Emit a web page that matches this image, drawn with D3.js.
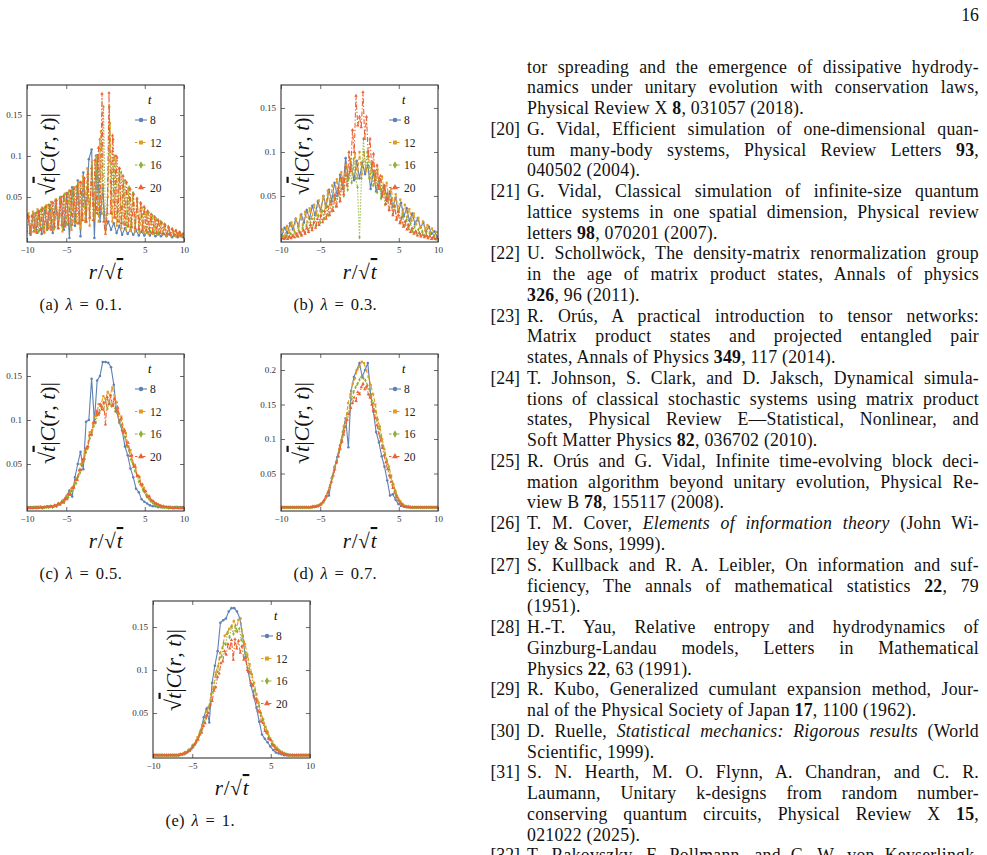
<!DOCTYPE html>
<html>
<head>
<meta charset="utf-8">
<script src="https://cdn.jsdelivr.net/npm/d3@7"></script>
<style>
  body { margin: 0; background: #fff; width: 987px; height: 855px; overflow: hidden; position: relative; }
  svg { position: absolute; left: 0; top: 0; }
  .ln, .num, .page { position: absolute; font-family: "Liberation Serif", serif; font-size: 17.8px; line-height: 20.76px; color: #111; }
  .ln { left: 527px; width: 452px; text-align: justify; text-align-last: justify; white-space: nowrap; letter-spacing: 0.25px; }
  .ln.last { text-align-last: left; }
  .num { left: 470px; width: 50px; text-align: right; }
  .page { right: 8px; top: 5px; }
</style>
</head>
<body>
<script>
"use strict";

// sqrt(t)|C(r,t)|, one value per site r = -R..R
// (x position is r / sqrt(t))
const times = [8, 12, 16, 20];

// (a) lambda = 0.1
const a8 = [.028,.004,.03,.008,.033,.005,.036,.01,.04,.006,.045,.012,.05,.01,.055,0,.062,.015,.07,.002,.08,.02,.096,.108,0,.101,.02,.06,
  .012,
  .02,.01,.018,.006,.015,.004,.012,.005,.01,.004,.009,.003,.008,.003,.007,.003,.007,.002,.006,.002,.005,.002,.005,.001,.004,.001,.003,.001];
const a12 = [.03,.006,.032,.008,.035,.01,.037,.006,.04,.012,.044,.01,.047,.014,.05,.008,.054,.016,.058,.01,.062,.018,.068,.012,.075,.02,.085,.015,.093,.025,.1,.02,.13,.03,
  .01,
  .05,.14,.02,.1,.015,.085,.012,.07,.01,.06,.009,.052,.008,.044,.007,.037,.006,.031,.005,.026,.005,.021,.004,.017,.004,.014,.003,.011,.003,.008,.002,.006,.002,.004];
const a16 = [.008,.026,.008,.028,.01,.031,.008,.034,.012,.037,.01,.04,.014,.043,.012,.046,.016,.049,.014,.052,.018,.055,.015,.058,.02,.062,.018,.068,.022,.073,.02,.08,.025,.088,.022,.1,.03,.12,.03,.16,
  .01,
  .04,.16,.03,.12,.025,.098,.02,.08,.018,.07,.015,.062,.013,.055,.012,.048,.01,.042,.009,.036,.008,.031,.007,.027,.006,.023,.005,.02,.005,.017,.004,.014,.004,.011,.003,.009,.003,.007,.002,.005];
const a20 = [.025,.006,.027,.008,.03,.006,.032,.01,.035,.008,.038,.012,.04,.01,.043,.014,.046,.012,.048,.016,.051,.014,.054,.018,.057,.016,.06,.02,.064,.018,.068,.022,.073,.02,.078,.025,.085,.022,.095,.03,.11,.035,.176,.02,
  .005,
  .03,.177,.03,.125,.025,.1,.02,.085,.018,.076,.016,.068,.014,.06,.013,.054,.012,.048,.011,.043,.01,.038,.009,.033,.008,.029,.007,.026,.006,.022,.006,.019,.005,.016,.005,.013,.004,.011,.004,.009,.003,.007,.003,.005];

// (b) lambda = 0.3
const b8 = [.005,.014,.008,.019,.012,.024,.016,.029,.02,.034,.024,.039,.028,.044,.033,.05,.038,.057,.044,.065,.05,.074,.058,.093,.07,.085,.068,.09,
  .07,
  .088,.075,.085,.058,.078,.055,.07,.05,.062,.044,.055,.038,.048,.032,.042,.027,.036,.022,.03,.018,.025,.014,.02,.01,.015,.007,.01,.004];
const b12 = [.012,.005,.016,.008,.02,.011,.024,.014,.028,.017,.032,.02,.036,.024,.04,.028,.045,.032,.05,.036,.056,.041,.062,.047,.069,.053,.077,.06,.085,.068,.092,.075,.098,.07,
  .1,
  .075,.1,.078,.095,.07,.088,.064,.08,.058,.072,.052,.065,.046,.058,.04,.052,.035,.046,.03,.04,.026,.035,.022,.03,.018,.025,.014,.021,.011,.017,.008,.013,.005,.009];
const b16 = [.001,.004,.002,.005,.003,.007,.004,.009,.005,.011,.007,.014,.009,.017,.011,.02,.014,.024,.017,.028,.02,.033,.024,.038,.028,.044,.033,.05,.038,.057,.044,.065,.05,.073,.057,.082,.065,.092,.07,.06,
  .003,
  .07,.115,.08,.1,.07,.088,.062,.078,.054,.068,.047,.06,.04,.052,.034,.045,.029,.039,.024,.033,.02,.028,.016,.023,.013,.019,.01,.015,.008,.012,.006,.01,.005,.008,.003,.006,.002,.004,.001,.003];
const b20 = [.002,.001,.003,.001,.004,.002,.005,.003,.007,.004,.009,.005,.011,.007,.014,.009,.017,.011,.02,.014,.024,.017,.028,.02,.033,.024,.038,.028,.044,.033,.051,.038,.059,.044,.07,.052,.083,.062,.1,.078,.125,.1,.164,.13,
  .14,
  .128,.168,.115,.14,.095,.115,.08,.098,.068,.085,.058,.073,.049,.062,.041,.053,.034,.045,.028,.038,.023,.032,.019,.026,.015,.021,.012,.017,.009,.013,.007,.01,.005,.008,.004,.006,.003,.005,.002,.004,.001,.003,.001,.002];

// (c) lambda = 0.5
const c8 = [.001,.001,.001,.001,.001,.001,.001,.002,.002,.002,.003,.004,.006,.009,.014,.02,.013,.035,.05,.064,.044,.098,.1,.147,.098,.145,.15,.166,
  .166,
  .165,.16,.14,.11,.097,.088,.07,.06,.045,.035,.022,.018,.01,.007,.005,.003,.002,.002,.001,.001,.001,.001,.001,.001,.001,.001,.001,.001];
const c12 = [0,0,0,0,0,.001,0,.001,.001,.001,.002,.002,.003,.004,.005,.008,.009,.014,.015,.022,.025,.034,.037,.05,.052,.066,.07,.086,.088,.104,.105,.118,.117,.127,
  .124,
  .132,.128,.137,.125,.12,.107,.104,.09,.085,.07,.066,.052,.049,.037,.035,.025,.023,.015,.014,.009,.008,.005,.004,.003,.002,.001,.001,0,.001,0,0,0,0,0];
const c16 = [0,0,0,0,.001,0,.001,.001,0,.001,.001,.001,.002,.001,.003,.002,.005,.004,.008,.007,.012,.012,.018,.019,.026,.028,.036,.04,.049,.053,.063,.068,.079,.083,.093,.097,.107,.108,.116,.112,
  .121,
  .113,.12,.116,.118,.11,.108,.098,.094,.085,.08,.07,.065,.055,.05,.042,.037,.03,.027,.021,.018,.013,.011,.008,.006,.004,.003,.002,.002,.001,.001,.001,0,.001,0,0,.001,0,0,0,0];
const c20 = [0,0,0,0,0,.001,0,.001,0,.001,.001,.001,.001,.002,.001,.003,.002,.005,.004,.007,.006,.011,.01,.016,.015,.023,.023,.032,.032,.043,.043,.055,.056,.068,.07,.083,.084,.097,.097,.11,.106,.118,.112,.12,
  .095,
  .126,.118,.128,.116,.124,.11,.114,.099,.102,.086,.088,.072,.074,.059,.06,.047,.047,.036,.036,.027,.027,.019,.019,.013,.013,.009,.008,.006,.005,.004,.003,.002,.002,.001,.001,.001,0,0,0,0,0,0,0,0];

// (d) lambda = 0.7
const d8 = [.001,.001,.001,.001,.001,.001,.001,.001,.001,.001,.001,.001,.002,.003,.005,.009,.017,.018,.043,.059,.074,.091,.11,.13,.088,.17,.19,.2,
  .21,
  .19,.2,.21,.165,.14,.11,.095,.075,.06,.04,.018,.02,.012,.006,.003,.002,.001,.001,.001,.001,.001,.001,.001,.001,.001,.001,.001,.001];
const d12 = [.001,.001,.001,.001,.001,.001,.001,.001,.001,.001,.001,.001,.001,.001,.002,.002,.003,.005,.009,.014,.022,.033,.045,.06,.068,.085,.098,.118,.13,.152,.165,.18,.188,.2,
  .205,
  .212,.21,.2,.19,.178,.165,.15,.128,.118,.1,.085,.07,.06,.047,.034,.024,.015,.01,.006,.003,.002,.002,.001,.001,.001,.001,.001,.001,.001,.001,.001,.001,.001,.001];
const d16 = [.001,.001,.001,.001,.001,.001,.001,.001,.001,.001,.001,.001,.001,.001,.001,.001,.002,.002,.003,.003,.005,.007,.011,.016,.024,.033,.043,.054,.066,.077,.088,.1,.112,.125,.137,.148,.158,.168,.175,.18,
  .186,
  .19,.188,.185,.178,.172,.162,.152,.14,.128,.115,.103,.09,.078,.067,.056,.045,.035,.026,.018,.012,.008,.005,.003,.002,.002,.001,.001,.001,.001,.001,.001,.001,.001,.001,.001,.001,.001,.001,.001,.001];
const d20 = [.001,.001,.001,.001,.001,.001,.001,.001,.001,.001,.001,.001,.001,.001,.001,.001,.001,.002,.002,.002,.003,.004,.006,.008,.012,.017,.022,.03,.038,.047,.056,.066,.075,.086,.096,.106,.117,.128,.136,.145,.152,.16,.155,.168,
  .165,
  .175,.18,.172,.176,.165,.16,.15,.142,.13,.12,.108,.098,.087,.076,.066,.056,.047,.038,.029,.022,.016,.011,.007,.005,.003,.002,.002,.001,.001,.001,.001,.001,.001,.001,.001,.001,.001,.001,.001,.001,.001,.001,.001,.001];

// (e) lambda = 1
const e8 = [.001,.001,.001,.001,.001,.001,.001,.001,.001,.001,.002,.002,.004,.006,.01,.015,.022,.03,.045,.055,.039,.085,.105,.122,.155,.158,.16,.168,
  .172,
  .172,.168,.16,.14,.115,.098,.082,.07,.056,.04,.025,.02,.016,.011,.007,.004,.003,.002,.001,.001,.001,.001,.001,.001,.001,.001,.001,.001];
const e12 = [.001,.001,.001,.001,.001,.001,.001,.001,.001,.001,.001,.002,.002,.003,.004,.006,.008,.013,.015,.022,.027,.036,.04,.052,.057,.072,.08,.097,.104,.12,.126,.14,.142,.148,
  .15,
  .157,.145,.158,.16,.14,.13,.118,.107,.095,.085,.072,.062,.05,.043,.034,.028,.021,.017,.012,.01,.007,.005,.003,.002,.002,.001,.001,.001,.001,.001,.001,.001,.001,.001];
const e16 = [.001,.001,.001,.001,.001,.001,.001,.001,.001,.001,.001,.001,.001,.001,.002,.002,.004,.004,.007,.008,.012,.013,.018,.021,.028,.031,.04,.045,.056,.06,.074,.078,.094,.098,.114,.116,.131,.13,.144,.138,
  .151,
  .142,.152,.145,.148,.135,.133,.12,.116,.102,.096,.083,.076,.064,.058,.047,.042,.034,.029,.022,.019,.014,.012,.008,.007,.005,.004,.003,.002,.001,.001,.001,.001,.001,.001,.001,.001,.001,.001,.001,.001];
const e20 = [.001,.001,.001,.001,.001,.001,.001,.001,.001,.001,.001,.001,.001,.001,.001,.002,.002,.003,.004,.005,.006,.008,.011,.013,.017,.019,.025,.027,.035,.038,.047,.05,.06,.064,.076,.08,.092,.096,.108,.11,.122,.118,.13,.125,
  .135,
  .112,.136,.125,.134,.12,.128,.112,.114,.1,.098,.085,.082,.068,.066,.053,.051,.04,.038,.029,.027,.02,.019,.013,.012,.008,.007,.005,.004,.003,.002,.002,.001,.001,.001,.001,.001,.001,.001,.001,.001,.001,.001,.001,.001];

const xDomain = [-10, 10];
const xTicks = [-10, -5, 5, 10];
const yTicksABCE = [0.05, 0.1, 0.15];
const yTicksD = [0.05, 0.1, 0.15, 0.2];
const yDomA = [-0.0049, 0.1866];
const yDomB = [-0.0023, 0.1761];
const yDomC = [-0.0034, 0.175];
const yDomD = [-0.0043, 0.2232];
const yDomE = [-0.0023, 0.1803];

const colors = ["#5E81B5", "#E19C24", "#8FB032", "#EB6235"];
const dashes = [null, "4,2", "1.3,1.7", "5,2,1.3,2"];
const symbols = [d3.symbolCircle, d3.symbolSquare, d3.symbolDiamond, d3.symbolTriangle];

const panels = [
  { id: "a", lambda: "0.1", left: 27, top: 85, yDomain: yDomA, yTicks: yTicksABCE, series: [a8, a12, a16, a20] },
  { id: "b", lambda: "0.3", left: 281, top: 85, yDomain: yDomB, yTicks: yTicksABCE, series: [b8, b12, b16, b20] },
  { id: "c", lambda: "0.5", left: 27, top: 354, yDomain: yDomC, yTicks: yTicksABCE, series: [c8, c12, c16, c20] },
  { id: "d", lambda: "0.7", left: 281, top: 354, yDomain: yDomD, yTicks: yTicksD, series: [d8, d12, d16, d20] },
  { id: "e", lambda: "1", left: 153, top: 601, yDomain: yDomE, yTicks: yTicksABCE, series: [e8, e12, e16, e20] }
];

const refLines = [
  ["", "tor spreading and the emergence of dissipative hydrody-", 0],
  ["", "namics under unitary evolution with conservation laws,", 0],
  ["", "Physical Review X <b>8</b>, 031057 (2018).", 1],
  ["[20]", "G. Vidal, Efficient simulation of one-dimensional quan-", 0],
  ["", "tum many-body systems, Physical Review Letters <b>93</b>,", 0],
  ["", "040502 (2004).", 1],
  ["[21]", "G. Vidal, Classical simulation of infinite-size quantum", 0],
  ["", "lattice systems in one spatial dimension, Physical review", 0],
  ["", "letters <b>98</b>, 070201 (2007).", 1],
  ["[22]", "U. Schollwöck, The density-matrix renormalization group", 0],
  ["", "in the age of matrix product states, Annals of physics", 0],
  ["", "<b>326</b>, 96 (2011).", 1],
  ["[23]", "R. Orús, A practical introduction to tensor networks:", 0],
  ["", "Matrix product states and projected entangled pair", 0],
  ["", "states, Annals of Physics <b>349</b>, 117 (2014).", 1],
  ["[24]", "T. Johnson, S. Clark, and D. Jaksch, Dynamical simula-", 0],
  ["", "tions of classical stochastic systems using matrix product", 0],
  ["", "states, Physical Review E—Statistical, Nonlinear, and", 0],
  ["", "Soft Matter Physics <b>82</b>, 036702 (2010).", 1],
  ["[25]", "R. Orús and G. Vidal, Infinite time-evolving block deci-", 0],
  ["", "mation algorithm beyond unitary evolution, Physical Re-", 0],
  ["", "view B <b>78</b>, 155117 (2008).", 1],
  ["[26]", "T. M. Cover, <i>Elements of information theory</i> (John Wi-", 0],
  ["", "ley &amp; Sons, 1999).", 1],
  ["[27]", "S. Kullback and R. A. Leibler, On information and suf-", 0],
  ["", "ficiency, The annals of mathematical statistics <b>22</b>, 79", 0],
  ["", "(1951).", 1],
  ["[28]", "H.-T. Yau, Relative entropy and hydrodynamics of", 0],
  ["", "Ginzburg-Landau models, Letters in Mathematical", 0],
  ["", "Physics <b>22</b>, 63 (1991).", 1],
  ["[29]", "R. Kubo, Generalized cumulant expansion method, Jour-", 0],
  ["", "nal of the Physical Society of Japan <b>17</b>, 1100 (1962).", 1],
  ["[30]", "D. Ruelle, <i>Statistical mechanics: Rigorous results</i> (World", 0],
  ["", "Scientific, 1999).", 1],
  ["[31]", "S. N. Hearth, M. O. Flynn, A. Chandran, and C. R.", 0],
  ["", "Laumann, Unitary k-designs from random number-", 0],
  ["", "conserving quantum circuits, Physical Review X <b>15</b>,", 0],
  ["", "021022 (2025).", 1],
  ["[32]", "T. Rakovszky, F. Pollmann, and C. W. von Keyserlingk,", 0]
];

const W = 157, H = 157;
const serif = '"Liberation Serif", "DejaVu Serif", serif';

const svg = d3.select("body").append("svg").attr("width", 987).attr("height", 855);

// writes a little math string: parts are [text, italic, overline]
function mathText(sel, parts) {
  parts.forEach(p => {
    const ts = sel.append("tspan").text(p[0]);
    if (p[1]) ts.attr("font-style", "italic");
    if (p[2]) ts.style("text-decoration", "overline");
  });
  return sel;
}

function drawPanel(p) {
  const g = svg.append("g").attr("transform", `translate(${p.left},${p.top})`);
  const x = d3.scaleLinear().domain(xDomain).range([0, W]);
  const y = d3.scaleLinear().domain(p.yDomain).range([H, 0]);

  const clipId = "clip-" + p.id;
  g.append("clipPath").attr("id", clipId)
    .append("rect").attr("width", W).attr("height", H);
  const plot = g.append("g").attr("clip-path", `url(#${clipId})`);
  const line = d3.line().x(d => x(d[0])).y(d => y(d[1]));

  p.series.forEach((vals, k) => {
    const R = (vals.length - 1) / 2;
    const pts = vals.map((v, i) => [(i - R) / Math.sqrt(times[k]), v]);
    plot.append("path").datum(pts)
      .attr("d", line)
      .attr("fill", "none")
      .attr("stroke", colors[k])
      .attr("stroke-width", 1.1)
      .attr("stroke-dasharray", dashes[k]);
    plot.append("g").selectAll("path")
      .data(pts)
      .join("path")
        .attr("transform", d => `translate(${x(d[0])},${y(d[1])})`)
        .attr("d", d3.symbol(symbols[k], 5))
        .attr("fill", colors[k]);
  });

  // frame ticks, labels only bottom and left
  const fmtX = d => d < 0 ? "\u2212" + (-d) : String(d);
  const axes = [
    g.append("g").attr("transform", `translate(0,${H})`)
      .call(d3.axisBottom(x).tickValues(xTicks).tickSize(-4).tickPadding(5).tickFormat(fmtX)),
    g.append("g")
      .call(d3.axisLeft(y).tickValues(p.yTicks).tickSize(-4).tickPadding(5).tickFormat(d => String(d))),
    g.append("g")
      .call(d3.axisTop(x).tickValues(xTicks).tickSize(-4).tickFormat("")),
    g.append("g").attr("transform", `translate(${W},0)`)
      .call(d3.axisRight(y).tickValues(p.yTicks).tickSize(-4).tickFormat(""))
  ];
  axes.forEach(a => {
    a.select(".domain").remove();
    a.selectAll("line").attr("stroke", "#444").attr("stroke-width", 0.8);
    a.selectAll("text").attr("fill", "#333").style("font-family", serif).style("font-size", "9px");
  });

  g.append("rect").attr("width", W).attr("height", H)
    .attr("fill", "none").attr("stroke", "#333").attr("stroke-width", 1.1);

  // y label inside the frame
  mathText(g.append("text")
    .attr("transform", `translate(27.5,69) rotate(-90)`)
    .attr("text-anchor", "middle")
    .style("font-family", serif).style("font-size", "22px").attr("fill", "#111"),
    [["\u221A"], ["t", 1, 1], ["|"], ["C", 1], ["("], ["r", 1], [", "], ["t", 1], [")|"]]);

  // legend
  const lg = g.append("g").attr("transform", "translate(108,0)");
  lg.append("text").attr("x", 13).attr("y", 19)
    .attr("font-style", "italic").style("font-family", serif).style("font-size", "12px").text("t");
  times.forEach((t, k) => {
    const ly = 35 + k * 22.5;
    lg.append("line").attr("x1", 0).attr("x2", 12).attr("y1", ly).attr("y2", ly)
      .attr("stroke", colors[k]).attr("stroke-width", 1.1)
      .attr("stroke-dasharray", dashes[k] ? "2.5,1.5" : null);
    lg.append("path").attr("transform", `translate(6,${ly})`)
      .attr("d", d3.symbol(symbols[k], 16)).attr("fill", colors[k]);
    lg.append("text").attr("x", 15).attr("y", ly + 4)
      .style("font-family", serif).style("font-size", "11.5px").attr("fill", "#222").text(t);
  });

  // x label and caption
  mathText(g.append("text").attr("x", 79).attr("y", 194).attr("text-anchor", "middle")
    .style("font-family", serif).style("font-size", "21px").attr("fill", "#111")
    .attr("letter-spacing", "0.8px"),
    [["r", 1], ["/"], ["\u221A"], ["t", 1, 1]]);
  mathText(g.append("text").attr("x", 12.5).attr("y", 225)
    .style("font-family", serif).style("font-size", "16.5px").attr("fill", "#111")
    .attr("letter-spacing", "0.4px").attr("word-spacing", "2px"),
    [["(" + p.id + ") "], ["\u03BB", 1], [" = " + p.lambda + "."]]);
}

panels.forEach(drawPanel);

// reference list on the right
const body = d3.select("body");
body.append("div").attr("class", "page").text("16");
refLines.forEach((r, n) => {
  const top = 56.5 + n * 20.76;
  if (r[0]) body.append("div").attr("class", "num").style("top", top + "px").text(r[0]);
  body.append("div").attr("class", r[2] ? "ln last" : "ln").style("top", top + "px").html(r[1]);
});
</script>
</body>
</html>
